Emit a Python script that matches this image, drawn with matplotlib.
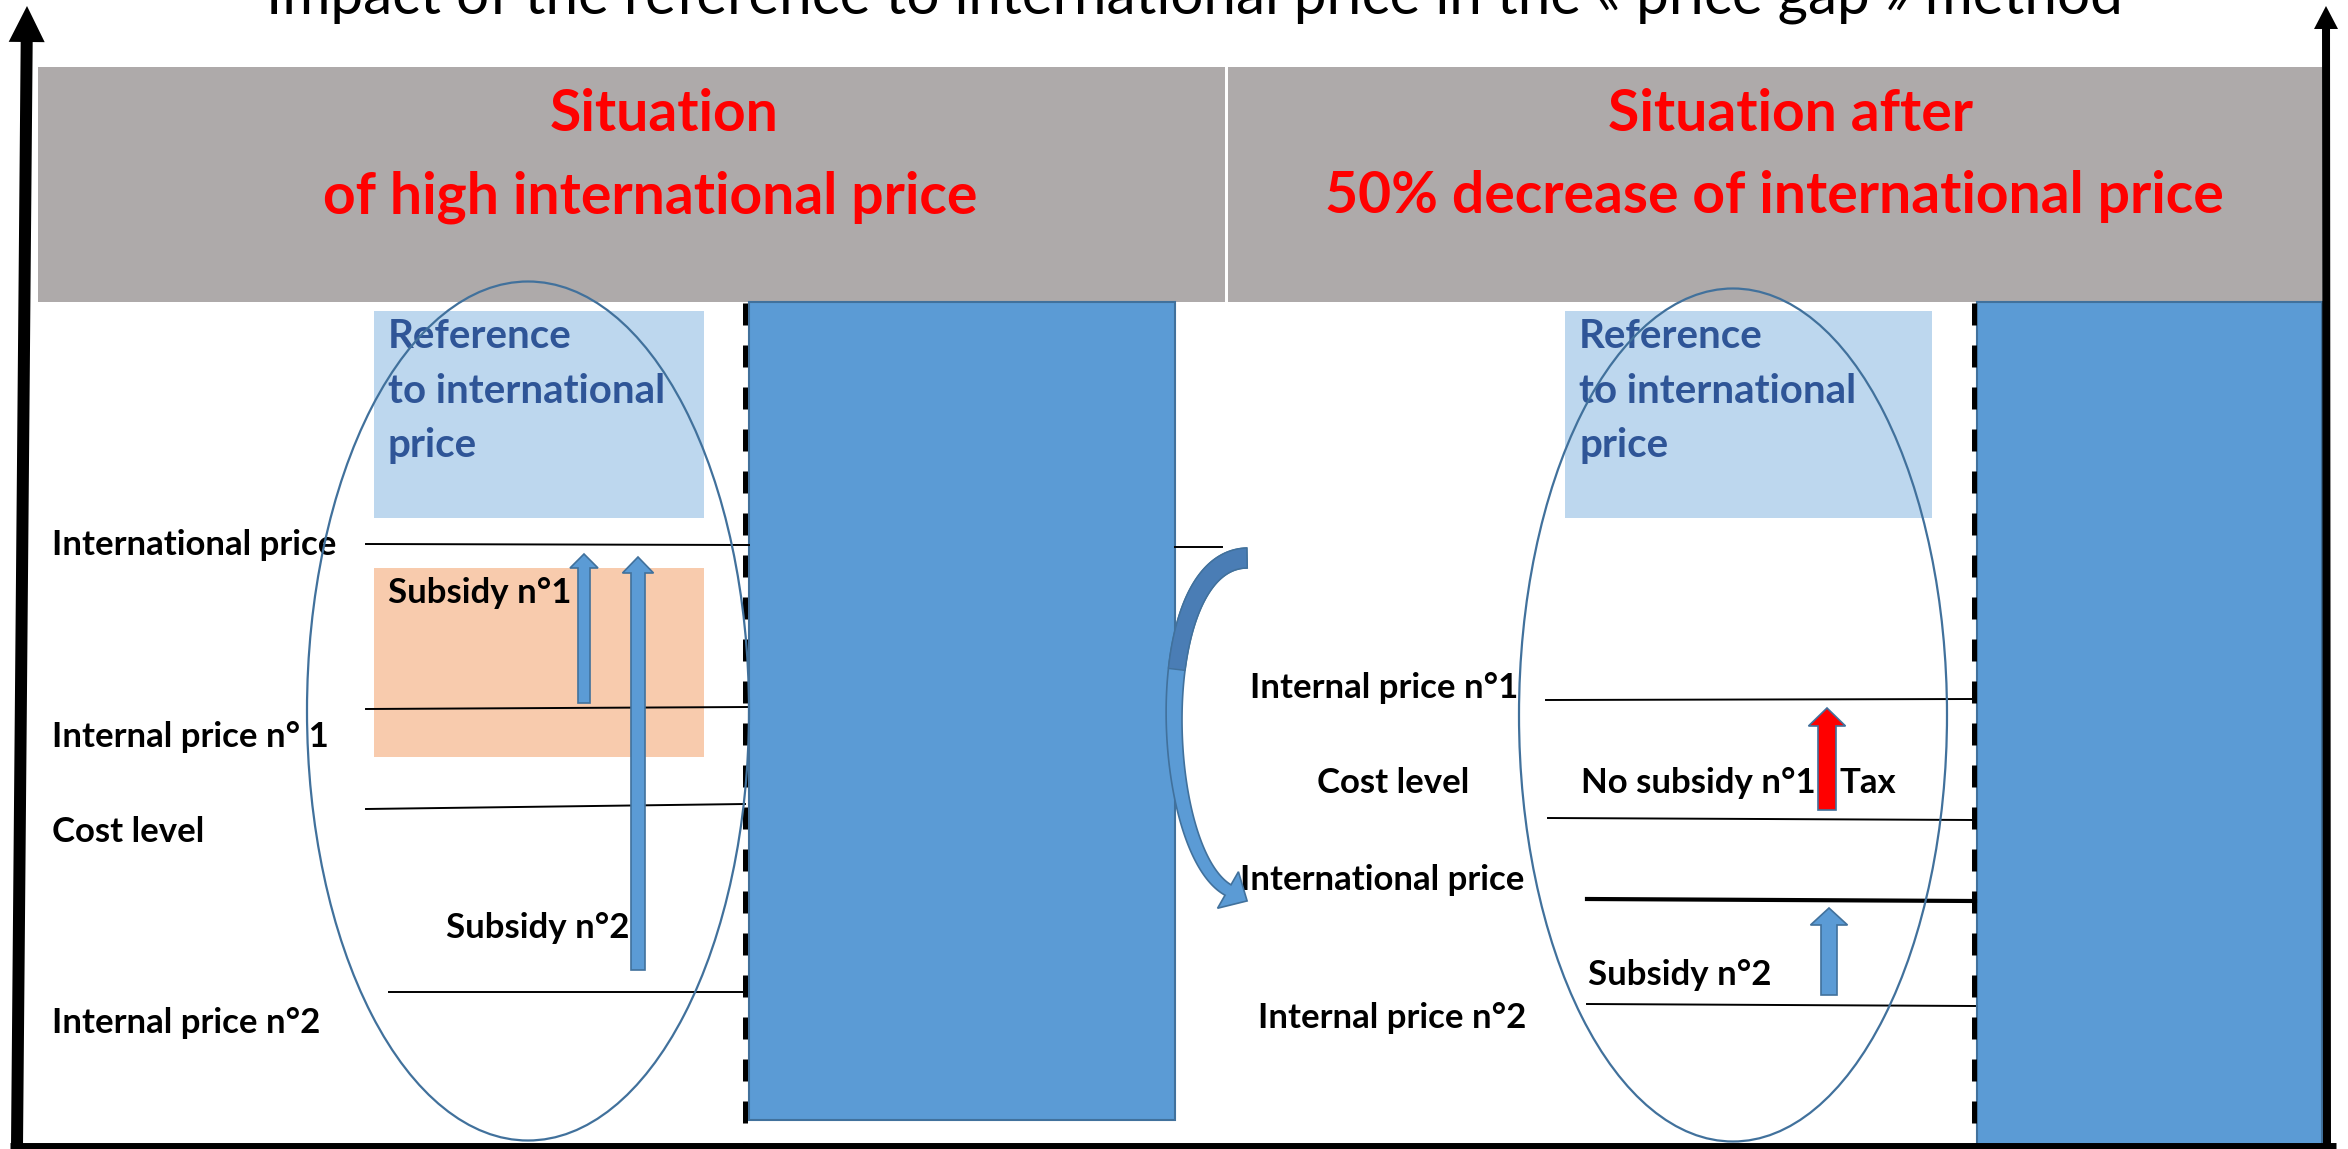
import numpy as np
import matplotlib.pyplot as plt
from matplotlib.patches import Rectangle, Ellipse, FancyArrow, Polygon

W, H = 2348, 1149
plt.rcParams['font.family'] = ['Lato', 'DejaVu Sans']

GRAY = "#AEAAAA"
BLUE = "#5B9BD5"
BLUE_DARK = "#4A7DB5"
BLUE_EDGE = "#41719C"
LIGHT_BLUE = "#BDD7EE"
PEACH = "#F8CBAD"
DARK_BLUE = "#2F5597"

title = "Impact of the reference to international price in the « price gap » method"

# header lines: (text, x centre, baseline)
header_left = [("Situation", 664, 131), ("of high international price", 650, 213)]
header_right = [("Situation after", 1791, 131), ("50% decrease of international price", 1774, 213)]

ref_lines = ["Reference", "to international", "price"]
ref_baselines = [348, 403, 457]

# left panel: level labels (text, x, baseline) and level lines (x0, x1, y0, y1)
left_labels = [("International price", 52, 555), ("Internal price n° 1", 52, 747),
               ("Cost level", 52, 842), ("Internal price n°2", 52, 1033),
               ("Subsidy n°1", 388, 603), ("Subsidy n°2", 446, 938)]
left_levels = [(366, 749, 544, 545), (366, 749, 709, 707),
               (366, 745, 809, 804), (389, 745, 992, 992)]
# block arrows: (x, base, tip, shaft, head width, head length, colour)
left_arrows = [(584, 703, 554, 12, 28, 14, BLUE), (638, 970, 557, 14, 31, 16, BLUE)]

right_labels = [("Internal price n°1", 1250, 698), ("Cost level", 1317, 793),
                ("No subsidy n°1", 1581, 793), ("Tax", 1840, 793),
                ("International price", 1240, 890), ("Subsidy n°2", 1588, 985),
                ("Internal price n°2", 1258, 1028)]
right_levels = [(1546, 1975, 700, 699, 1.4), (1548, 1975, 818, 820, 1.4),
                (1587, 1975, 899, 901, 3.0), (1587, 1975, 1004, 1006, 1.4)]
right_arrows = [(1827, 810, 708, 18, 37, 18, "#FF0000"), (1829, 995, 908, 16, 37, 17, BLUE)]

fig = plt.figure(figsize=(W / 100, H / 100), dpi=100)
ax = fig.add_axes([0, 0, 1, 1])
ax.set_xlim(0, W)
ax.set_ylim(H, 0)
ax.axis("off")

# title, cut at the top of the picture as in the original slide
ax.text(1194, 14, title, ha="center", va="baseline", fontsize=42, color="black")

# grey headers
ax.add_patch(Rectangle((38, 67), 1187, 235, facecolor=GRAY, edgecolor="none"))
ax.add_patch(Rectangle((1228, 67), 1094, 235, facecolor=GRAY, edgecolor="none"))
for s, x, y in header_left + header_right:
    ax.text(x, y, s, ha="center", va="baseline", fontsize=41, fontweight="bold", color="#FF0000")

# big blue columns
ax.add_patch(Rectangle((749, 302), 426, 818, facecolor=BLUE, edgecolor=BLUE_EDGE, lw=1.5, zorder=2))
ax.add_patch(Rectangle((1977, 302), 345, 843, facecolor=BLUE, edgecolor=BLUE_EDGE, lw=1.5, zorder=2))

# dashed separators
for xd in [745, 1974]:
    ax.plot([xd, xd], [303, H], color="black", lw=3.6, linestyle=(0, (4.4, 4.0)), zorder=3)

# reference boxes
for x0, bw in [(374, 330), (1565, 367)]:
    ax.add_patch(Rectangle((x0, 311), bw, 207, facecolor=LIGHT_BLUE, edgecolor="none", zorder=1))
    for s, y in zip(ref_lines, ref_baselines):
        ax.text(x0 + 14, y, s, ha="left", va="baseline", fontsize=29, fontweight="bold",
                color=DARK_BLUE, zorder=4)

# subsidy n°1 box
ax.add_patch(Rectangle((374, 568), 330, 189, facecolor=PEACH, edgecolor="none", zorder=1))

for s, x, y in left_labels + right_labels:
    ax.text(x, y, s, ha="left", va="baseline", fontsize=25, fontweight="bold", color="black", zorder=4)

for x0, x1, y0, y1 in left_levels:
    ax.plot([x0, x1], [y0, y1], color="black", lw=1.4, zorder=3)
for x0, x1, y0, y1, lw in right_levels:
    ax.plot([x0, x1], [y0, y1], color="black", lw=lw, zorder=3)
ax.plot([1175, 1222], [547, 547], color="black", lw=1.4, zorder=3)

for x, y0, y1, w, hw, hl, c in left_arrows + right_arrows:
    ax.add_patch(FancyArrow(x, y0, 0, y1 - y0, width=w, head_width=hw, head_length=hl,
                            length_includes_head=True, facecolor=c, edgecolor=BLUE_EDGE,
                            lw=1.2, zorder=5))

# curved arrow between panels: cubic centre line, tapering band, head at the end
P0, C1, C2, P3 = map(np.array, [(1247, 558), (1148, 560), (1158, 850), (1228, 890)])
t = np.linspace(0, 1, 120)[:, None]
curve = (1 - t) ** 3 * P0 + 3 * (1 - t) ** 2 * t * C1 + 3 * (1 - t) * t ** 2 * C2 + t ** 3 * P3
deriv = 3 * (1 - t) ** 2 * (C1 - P0) + 6 * (1 - t) * t * (C2 - C1) + 3 * t ** 2 * (P3 - C2)
tang = deriv / np.linalg.norm(deriv, axis=1, keepdims=True)
norm = np.column_stack([-tang[:, 1], tang[:, 0]])
half = (10 - 4 * t[:, 0])[:, None]
outer = curve + norm * half
inner = curve - norm * half
end_dir, end_n = tang[-1], norm[-1]
tip = P3 + end_dir * 22
head = [P3 + end_n * 21, tip, P3 - end_n * 21]
band = np.vstack([outer, head, inner[::-1]])
ax.add_patch(Polygon(band, closed=True, facecolor=BLUE, edgecolor=BLUE_EDGE, lw=1.2, zorder=5))
# darker upper part (the "back" of the curved arrow)
k = 50
upper = np.vstack([outer[:k], inner[:k][::-1]])
ax.add_patch(Polygon(upper, closed=True, facecolor=BLUE_DARK, edgecolor=BLUE_EDGE, lw=1.0, zorder=5))

# ellipses
ax.add_patch(Ellipse((528, 711), 442, 859, facecolor="none", edgecolor=BLUE_EDGE, lw=1.6, zorder=6))
ax.add_patch(Ellipse((1733, 715), 428, 853, facecolor="none", edgecolor=BLUE_EDGE, lw=1.6, zorder=6))

# frame arrows
ax.add_patch(FancyArrow(17, 1146, 10, -1140, width=12, head_width=36, head_length=36,
                        length_includes_head=True, color="black", lw=0, zorder=7))
ax.add_patch(FancyArrow(2327, 1149, -1, -1143, width=8, head_width=24, head_length=23,
                        length_includes_head=True, color="black", lw=0, zorder=7))
ax.plot([10, 2336], [1146, 1146], color="black", lw=5, solid_capstyle="butt", zorder=7)

fig.savefig("out.png", dpi=100)
